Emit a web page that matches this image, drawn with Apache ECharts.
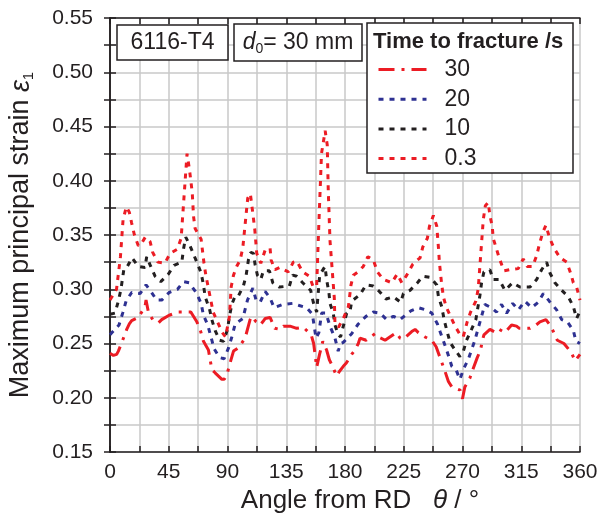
<!DOCTYPE html>
<html>
<head>
<meta charset="utf-8">
<script src="https://cdn.jsdelivr.net/npm/echarts@6/dist/echarts.min.js"></script>
<style>
html, body { margin: 0; padding: 0; background: #fff; }
#main { width: 598px; height: 519px; }
</style>
</head>
<body>
<div id="main"></div>
<script>
// [angle from RD (deg), maximum principal strain]
const data30 = [[0,0.241],[2.6,0.239],[5.1,0.24],[6.4,0.243],[9.7,0.253],[12.8,0.263],[14.8,0.268],[16.6,0.271],[21.7,0.274],[26.8,0.284],[27.6,0.29],[29.4,0.279],[32.7,0.272],[37.1,0.269],[39.6,0.272],[45.3,0.276],[52.4,0.279],[55.7,0.279],[61.9,0.279],[66.5,0.27],[69,0.263],[71.6,0.252],[75.4,0.244],[76.7,0.235],[78,0.226],[80.5,0.223],[85.7,0.217],[87.5,0.217],[89.5,0.221],[91.5,0.23],[94.6,0.243],[98.4,0.246],[103.5,0.255],[107.3,0.272],[108.6,0.275],[111.9,0.27],[115,0.267],[117,0.27],[118.8,0.273],[122.6,0.274],[126.2,0.264],[130.3,0.263],[132.8,0.266],[137.9,0.266],[143,0.264],[148.1,0.265],[154.1,0.258],[156,0.25],[158.3,0.228],[160.5,0.24],[163,0.252],[165.9,0.244],[168,0.235],[170.5,0.229],[173.5,0.22],[175.6,0.224],[178.7,0.229],[181,0.232],[185.1,0.24],[187.7,0.244],[190.2,0.25],[191.5,0.255],[196.1,0.253],[203,0.259],[205.6,0.256],[210.7,0.253],[212,0.254],[219.1,0.26],[222.2,0.255],[224.7,0.254],[231.1,0.261],[233.7,0.263],[236.2,0.26],[241.3,0.256],[246.5,0.253],[249.8,0.247],[252.8,0.237],[256.7,0.224],[259.2,0.215],[261.8,0.21],[268.2,0.207],[270,0.199],[271.8,0.21],[275.6,0.218],[278.2,0.227],[281.3,0.237],[283.8,0.244],[285.3,0.253],[286.4,0.258],[291,0.263],[295.6,0.26],[298.1,0.263],[302.5,0.26],[307.6,0.267],[311.4,0.266],[313.5,0.264],[321.7,0.264],[326.3,0.267],[329.3,0.27],[333.9,0.272],[337,0.267],[339.6,0.261],[342.6,0.253],[347.7,0.25],[351.8,0.244],[353.6,0.241],[356.2,0.234],[360,0.24]];

const data20 = [[0,0.258],[3,0.262],[6.9,0.267],[9.7,0.278],[12.3,0.289],[16.6,0.297],[23,0.296],[27.6,0.304],[30.7,0.299],[35.8,0.29],[39.6,0.29],[45.3,0.297],[51.7,0.3],[56.3,0.307],[60.6,0.306],[66,0.297],[69.8,0.287],[71.6,0.276],[74.9,0.267],[79.8,0.245],[83.9,0.237],[87.4,0.236],[90.8,0.246],[93.3,0.256],[95.9,0.268],[101.7,0.273],[105.3,0.29],[109.4,0.301],[111.9,0.29],[115,0.288],[118.8,0.298],[122.6,0.292],[125.7,0.283],[132.3,0.286],[139.9,0.287],[145,0.285],[150.6,0.283],[155,0.277],[157.8,0.255],[160,0.26],[162.1,0.278],[165.4,0.278],[168.5,0.266],[172.3,0.255],[174.8,0.243],[176.6,0.25],[178.7,0.251],[185.1,0.259],[190.2,0.268],[196.1,0.275],[201.7,0.279],[206.8,0.278],[211.9,0.272],[217.1,0.275],[222.2,0.272],[225.2,0.275],[230.4,0.28],[236.2,0.283],[242.1,0.281],[246.5,0.278],[250.8,0.268],[252.8,0.261],[256.7,0.248],[259.2,0.239],[261.8,0.229],[265,0.226],[268,0.217],[271,0.227],[274.3,0.235],[276.9,0.244],[279.5,0.253],[282,0.264],[284.6,0.275],[287.1,0.286],[292.2,0.283],[296.1,0.279],[299.9,0.286],[303.8,0.278],[308.4,0.287],[312.7,0.281],[317.8,0.289],[322.9,0.283],[328,0.288],[331.9,0.296],[336.5,0.289],[342.1,0.281],[346,0.272],[350.3,0.27],[354.9,0.262],[356.9,0.252],[360,0.25]];

const data10 = [[0,0.277],[3.8,0.278],[6.4,0.289],[8.4,0.3],[9.7,0.311],[10.7,0.319],[13.3,0.321],[16.9,0.329],[21.7,0.321],[26.8,0.32],[28.1,0.33],[31.2,0.321],[34.5,0.312],[38.9,0.307],[44.7,0.314],[49.1,0.322],[55,0.325],[56.3,0.337],[58,0.348],[60.6,0.342],[66.5,0.325],[69.8,0.315],[71.6,0.304],[72.9,0.293],[76.2,0.282],[78,0.272],[80.5,0.262],[83.9,0.253],[87,0.252],[90,0.263],[91.5,0.275],[93.3,0.286],[95.9,0.294],[98.4,0.294],[102.2,0.303],[104.3,0.313],[106,0.327],[107.8,0.334],[109.9,0.333],[111.1,0.323],[112.9,0.313],[115.5,0.309],[117.5,0.317],[122.1,0.317],[124.7,0.306],[129.5,0.302],[137.4,0.303],[139.9,0.313],[143,0.312],[147.6,0.306],[153.7,0.299],[155.7,0.288],[158.3,0.279],[160.6,0.313],[164.7,0.321],[165.9,0.309],[167.7,0.297],[168.5,0.287],[171,0.278],[172.3,0.267],[174.8,0.258],[176.6,0.256],[178.5,0.265],[181.3,0.278],[183.8,0.279],[185.1,0.289],[191.5,0.295],[196.1,0.304],[201.7,0.303],[206.3,0.298],[211.4,0.291],[217.1,0.293],[222.7,0.288],[224.7,0.296],[229.8,0.299],[235.5,0.306],[239.6,0.312],[245.2,0.311],[250.3,0.304],[251.6,0.293],[254.1,0.284],[255.9,0.272],[258,0.262],[260.5,0.251],[264.3,0.244],[268,0.238],[270.7,0.243],[273.1,0.253],[276.9,0.263],[280.2,0.272],[283.3,0.294],[284.6,0.306],[286.4,0.316],[291,0.318],[293.5,0.309],[298.1,0.309],[302.5,0.299],[308.4,0.306],[314,0.302],[321.7,0.302],[326.8,0.309],[330.6,0.318],[334.4,0.325],[337,0.315],[340.8,0.306],[346,0.299],[351.1,0.293],[354.9,0.284],[357.4,0.273],[360,0.28]];

const data03 = [[0,0.29],[5,0.3],[8,0.33],[10,0.364],[12.5,0.376],[14.8,0.371],[16.6,0.361],[18.7,0.35],[21.7,0.34],[24,0.342],[27,0.348],[30.7,0.344],[32.7,0.334],[36.6,0.325],[42,0.324],[46,0.333],[51.6,0.337],[54.5,0.347],[59,0.425],[60.9,0.41],[63,0.389],[64,0.367],[65.2,0.356],[69.8,0.346],[72,0.324],[73.4,0.313],[79,0.279],[86,0.26],[88.5,0.256],[91.5,0.275],[92.8,0.302],[94.6,0.313],[97,0.321],[99.7,0.327],[101.7,0.338],[105.5,0.384],[107.5,0.388],[109.9,0.365],[110.9,0.355],[112.4,0.333],[115.5,0.324],[118.8,0.336],[122.6,0.338],[123.4,0.327],[126.4,0.318],[130,0.32],[136.6,0.316],[140.4,0.325],[143,0.326],[147.6,0.316],[152.7,0.312],[155.7,0.302],[158.3,0.303],[159.6,0.348],[162,0.425],[164.8,0.446],[166.4,0.433],[167.2,0.39],[168.5,0.345],[170.5,0.313],[171.8,0.292],[172.3,0.269],[175,0.265],[178.7,0.273],[182.6,0.284],[184.6,0.304],[186.4,0.313],[190,0.316],[194,0.321],[197.5,0.33],[201.7,0.327],[204.8,0.316],[209.4,0.309],[215.8,0.306],[220,0.314],[223.5,0.306],[227.3,0.313],[231.9,0.323],[237.5,0.329],[239.6,0.339],[243.1,0.347],[244.7,0.358],[247.7,0.368],[250.3,0.358],[251.6,0.338],[252.3,0.325],[254,0.305],[255.4,0.293],[257.4,0.284],[264.3,0.266],[268.2,0.258],[270.5,0.256],[273.6,0.27],[276.2,0.279],[280.2,0.289],[282,0.3],[283.3,0.321],[285.9,0.364],[287.5,0.377],[289.7,0.38],[291,0.368],[292.8,0.358],[293.5,0.347],[298.1,0.329],[301.7,0.317],[306.3,0.318],[312.7,0.319],[316.5,0.328],[319.6,0.321],[323.7,0.321],[326.8,0.331],[328.8,0.341],[331.4,0.352],[333.9,0.359],[336.5,0.348],[340,0.338],[344.7,0.329],[349.8,0.325],[352.8,0.315],[354.9,0.306],[357.4,0.302],[360,0.29]];

const seriesNames = ['30', '20', '10', '0.3'];

const FONT = "'Liberation Sans', Arial, Helvetica, sans-serif";
const INK = '#231f20';
const RED = '#ec1c24';
const BLUE = '#2e3192';

let chart = echarts.init(document.getElementById('main'), null, {renderer: 'canvas'});

function mkSeries(name, data, color, dash) {
    return {
        name: name,
        type: 'line',
        data: data,
        symbol: 'none',
        xAxisIndex: 0,
        yAxisIndex: 0,
        lineStyle: {color: color, width: 3, type: dash},
        itemStyle: {color: color},
        animation: false
    };
}

const gridLine = {show: true, lineStyle: {color: '#c8c8c8', width: 1.5}};
const frameLine = {show: true, lineStyle: {color: INK, width: 1.5}};
const inTick = {show: true, inside: true, length: 6, lineStyle: {color: INK, width: 1.5}};

const option = {
    animation: false,
    textStyle: {fontFamily: FONT, color: INK},
    grid: {left: 110, right: 18, top: 18, bottom: 67, containLabel: false, outerBoundsMode: 'none'},
    xAxis: [
        {
            type: 'value', min: 0, max: 360, interval: 22.5, position: 'bottom',
            axisLine: frameLine, axisTick: inTick, splitLine: gridLine,
            axisLabel: {
                margin: 10, fontSize: 21, color: INK, fontFamily: FONT,
                formatter: v => (v % 45 === 0 ? String(v) : '')
            },
            name: '{n|Angle from RD   }{i|θ}{n| / °}',
            nameLocation: 'middle', nameGap: 33,
            nameTextStyle: {
                padding: [0, 0, 0, 30],
                rich: {
                    n: {fontSize: 26, fontFamily: FONT, color: INK},
                    i: {fontSize: 26, fontFamily: FONT, fontStyle: 'italic', color: INK}
                }
            }
        },
        {
            type: 'value', min: 0, max: 360, interval: 22.5, position: 'top',
            axisLine: frameLine, axisTick: inTick, splitLine: {show: false},
            axisLabel: {show: false}
        }
    ],
    yAxis: [
        {
            type: 'value', min: 0.15, max: 0.55, interval: 0.025, position: 'left',
            axisLine: frameLine, axisTick: inTick, splitLine: gridLine,
            axisLabel: {
                margin: 17, fontSize: 21, color: INK, fontFamily: FONT,
                formatter: v => (Math.abs(v * 20 - Math.round(v * 20)) < 1e-6 ? v.toFixed(2) : '')
            },
            name: '{n|Maximum principal strain }{i|ε}{s|1}',
            nameLocation: 'middle', nameGap: 74, nameRotate: 90,
            nameTextStyle: {
                rich: {
                    n: {fontSize: 27, lineHeight: 30, fontFamily: FONT, color: INK},
                    i: {fontSize: 27, lineHeight: 30, fontFamily: FONT, fontStyle: 'italic', color: INK},
                    s: {fontSize: 15, fontFamily: FONT, color: INK, verticalAlign: 'bottom'}
                }
            }
        },
        {
            type: 'value', min: 0.15, max: 0.55, interval: 0.025, position: 'right',
            axisLine: frameLine, axisTick: inTick, splitLine: {show: false},
            axisLabel: {show: false}
        }
    ],
    legend: {
        data: seriesNames,
        orient: 'vertical',
        left: 377, top: 58,
        padding: 0,
        itemWidth: 48, itemHeight: 14, itemGap: 6.7,
        z: 20,
        selectedMode: false,
        itemStyle: {opacity: 0},
        lineStyle: {width: 3},
        textStyle: {fontSize: 23, lineHeight: 22, fontFamily: FONT, color: INK, padding: [0, 0, 0, 13]}
    },
    graphic: [
        {type: 'rect', z: 10, shape: {x: 117, y: 25, width: 111, height: 35},
         style: {fill: '#fff', stroke: INK, lineWidth: 1.5}},
        {type: 'text', z: 11, x: 172.5, y: 43,
         style: {text: '6116-T4', font: '23px ' + FONT, fill: INK, textAlign: 'center', textVerticalAlign: 'middle'}},
        {type: 'rect', z: 10, shape: {x: 234, y: 24, width: 128, height: 37},
         style: {fill: '#fff', stroke: INK, lineWidth: 1.5}},
        {type: 'text', z: 11, x: 298, y: 43,
         style: {
             text: '{i|d}{s|0}{n|= 30 mm}', textAlign: 'center', textVerticalAlign: 'middle', fill: INK,
             rich: {
                 i: {fontSize: 23, lineHeight: 26, fontFamily: FONT, fontStyle: 'italic', fill: INK},
                 s: {fontSize: 14, fontFamily: FONT, fill: INK, verticalAlign: 'bottom'},
                 n: {fontSize: 23, lineHeight: 26, fontFamily: FONT, fill: INK}
             }
         }},
        {type: 'rect', z: 10, shape: {x: 367, y: 23, width: 206, height: 150},
         style: {fill: '#fff', stroke: INK, lineWidth: 1.5}},
        {type: 'text', z: 11, x: 373, y: 42,
         style: {text: 'Time to fracture /s', font: 'bold 22px ' + FONT, fill: INK, textAlign: 'left', textVerticalAlign: 'middle'}}
    ],
    series: [
        mkSeries('30', data30, RED, [16, 7, 3, 7]),
        mkSeries('20', data20, BLUE, [5, 6]),
        mkSeries('10', data10, INK, [5, 6]),
        mkSeries('0.3', data03, RED, [5, 6])
    ]
};

chart.setOption(option);
</script>
</body>
</html>
